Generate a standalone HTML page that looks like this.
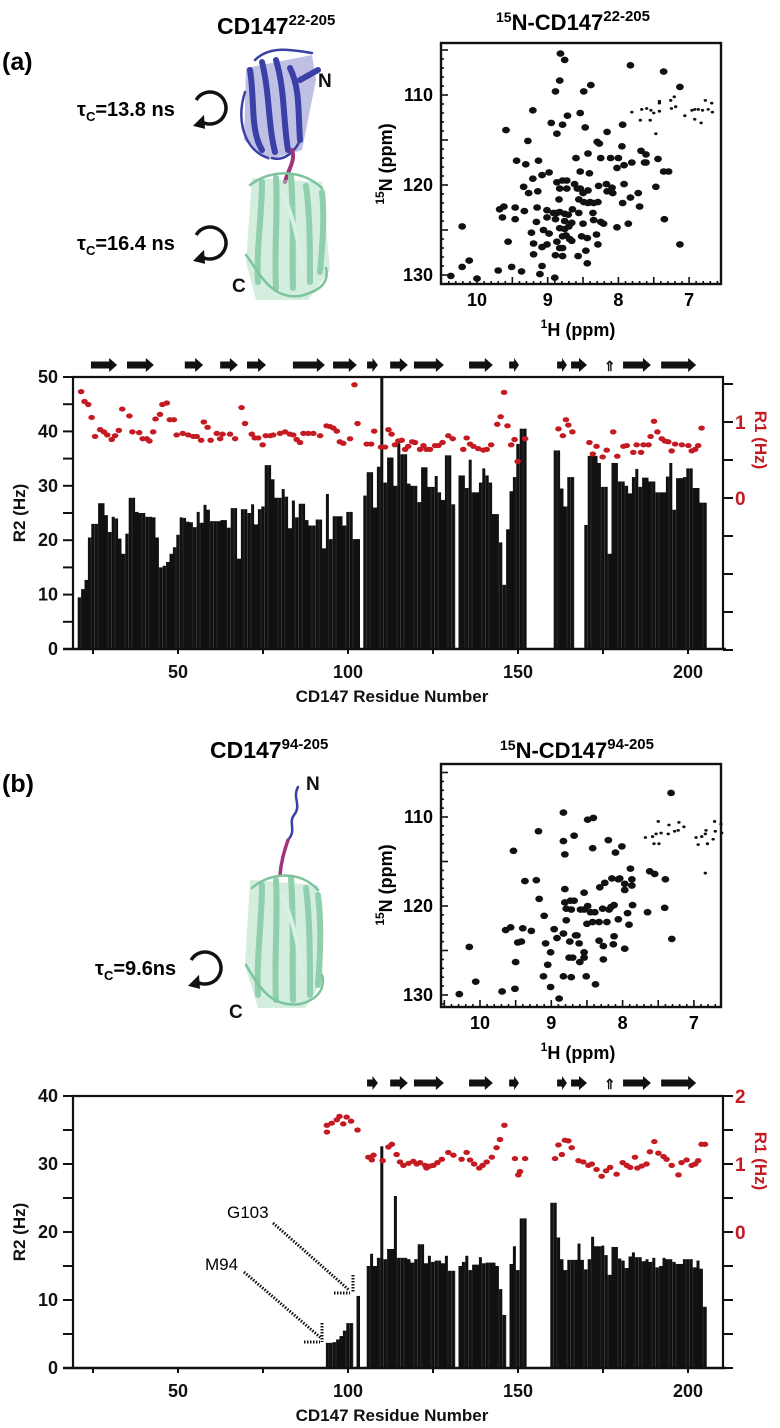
<!DOCTYPE html>
<html><head><meta charset="utf-8">
<style>
html,body{margin:0;padding:0;background:#fff;}
svg{display:block;font-family:"Liberation Sans",Arial,sans-serif;}
.b{font-weight:bold;}
</style></head>
<body>
<svg id="fig" width="780" height="1428" viewBox="0 0 780 1428" xmlns="http://www.w3.org/2000/svg">
<rect x="0" y="0" width="780" height="1428" fill="#fff"/>

<text x="2" y="70" class="b" font-size="25">(a)</text>
<text x="2" y="792" class="b" font-size="25">(b)</text>
<text x="217" y="34" class="b" font-size="23">CD147<tspan font-size="15" dy="-9">22-205</tspan></text>
<text x="210" y="758" class="b" font-size="23">CD147<tspan font-size="15" dy="-9">94-205</tspan></text>
<text x="496" y="30" class="b" font-size="22"><tspan font-size="14" dy="-8">15</tspan><tspan dy="8">N-CD147</tspan><tspan font-size="15" dy="-9">22-205</tspan></text>
<text x="500" y="758" class="b" font-size="22"><tspan font-size="14" dy="-8">15</tspan><tspan dy="8">N-CD147</tspan><tspan font-size="15" dy="-9">94-205</tspan></text>

<text x="77" y="116" class="b" font-size="20">τ<tspan font-size="13" dy="5">C</tspan><tspan dy="-5">=13.8 ns</tspan></text>
<text x="77" y="250" class="b" font-size="20">τ<tspan font-size="13" dy="5">C</tspan><tspan dy="-5">=16.4 ns</tspan></text>
<text x="95" y="975" class="b" font-size="20">τ<tspan font-size="13" dy="5">C</tspan><tspan dy="-5">=9.6ns</tspan></text>

<!-- spectrum axis titles -->
<text x="578" y="336" text-anchor="middle" class="b" font-size="18"><tspan font-size="12" dy="-8">1</tspan><tspan dy="8">H (ppm)</tspan></text>
<text x="578" y="1059" text-anchor="middle" class="b" font-size="18"><tspan font-size="12" dy="-8">1</tspan><tspan dy="8">H (ppm)</tspan></text>
<text x="0" y="0" transform="translate(392,164) rotate(-90)" text-anchor="middle" class="b" font-size="18"><tspan font-size="12" dy="-8">15</tspan><tspan dy="8">N (ppm)</tspan></text>
<text x="0" y="0" transform="translate(392,885) rotate(-90)" text-anchor="middle" class="b" font-size="18"><tspan font-size="12" dy="-8">15</tspan><tspan dy="8">N (ppm)</tspan></text>

<g id="rot-arrows"></g>
<g id="cartoons"></g>
<g id="specA"></g>
<g id="specB"></g>
<g id="chartA"></g>
<g id="chartB"></g>

<text x="227" y="1218" font-size="17">G103</text>
<text x="205" y="1270" font-size="17">M94</text>
<g stroke="#111" stroke-width="3" stroke-dasharray="1.5,1.5" fill="none">
<line x1="273" y1="1223" x2="349" y2="1290"/>
<line x1="334" y1="1293" x2="350" y2="1293"/>
<line x1="353" y1="1275" x2="353" y2="1293"/>
<line x1="244" y1="1272" x2="321" y2="1338"/>
<line x1="304" y1="1342" x2="320" y2="1342"/>
<line x1="322" y1="1323" x2="322" y2="1342"/>
</g>

<script>
const r2AStart = 21;
const r2A = [
 9.5,11,12.7,20.5,23,23,26.8,26.8,24.6,21.5,
 24.3,24,20.3,17.5,21.2,27.8,27.8,25.2,25,25,
 24.3,24.3,24.2,20.5,15,15.3,16,17.5,18.7,21,
 24.2,24.1,23.4,23.3,22.4,25.2,23.2,26.5,25.6,23.5,
 23.5,23.5,23.7,23.7,22.3,25.9,25.9,16.6,25.7,25.7,
 25,26.6,22.9,25.7,26.2,33.8,33.8,31.2,27.8,27.8,
 29.4,28,22.2,27.3,24.2,26.7,26.7,23.7,22.7,22.7,
 23.8,23.8,18.5,28.5,20.2,24.4,24.4,24.4,22.7,25.2,
 25.2,20.2,20.2,null,28.2,32.5,32.5,26,33.5,50,
 30.6,35.2,35.2,30,37.8,35.8,35.8,30.4,30,30,
 27,33.4,33.4,29.8,29.8,31.8,28.8,27.4,35.6,35.6,
 26.6,null,31.9,31.9,29.6,34.8,28.8,28.8,30.6,33.2,
 31.9,30.6,24.8,24.8,19.6,11.8,22,29,31.6,37.7,
 40.5,40.5,null,null,null,null,null,null,null,null,
 36.5,36.5,29.5,26.2,31.6,31.6,null,null,null,22.8,
 35.5,35.5,35.5,34.2,29.8,29.8,17.5,34.2,34.2,30.8,
 30.8,30,28.6,31.6,33.1,29.8,31.5,31.5,30.8,30.8,
 28.8,28.8,28.8,31.7,34.2,25.6,31.4,31.4,31.6,33.2,
 33.2,29.6,29.6,26.9,26.9
];
const r1AResidues = [21.5,22.5,23.6,24.6,25.6,27.1,28.2,29.2,30.5,31.5,32.6,33.6,35.7,36.6,38.6,39.6,40.8,41.6,42.7,43.4,44.7,45.4,46.7,47.6,48.8,49.6,51.4,53,54.5,55.5,56.8,57.6,58.7,59.6,61.4,62.4,63.1,65.3,66.8,68.7,69.7,71.7,72.6,73.6,74.9,75.8,77.1,78,80,81.5,82.9,83.9,84.9,85.9,86.9,88.3,89.8,91.8,93.7,94.7,95.7,96.7,97.6,98.6,100.6,101.9,102.8,105.5,106.8,107.7,109.7,110.9,111.9,112.8,113.8,114.8,115.8,116.8,117.7,118.9,119.7,121.2,122.2,123.1,124.1,125.6,126.6,127.8,129.5,130.8,133.9,134.9,135.9,136.9,138.3,139.8,140.8,142.1,143.9,144.9,145.9,146.9,148,149,149.9,152.1,161.9,163.2,164.1,164.8,166,171,172,173.1,174.9,176.1,178,179.2,181,182,183.9,184.9,186.2,186.9,188.4,189,190,191,192.3,193.2,194.2,195.2,196.2,198.2,200.1,201.1,202.1,203,204];
const r1AValues = [1.40,1.27,1.23,1.06,0.81,0.90,0.87,0.83,0.77,0.82,0.89,1.17,1.08,0.87,0.86,0.78,0.78,0.75,0.87,1.04,1.10,1.23,1.25,1.03,1.03,0.83,0.85,0.83,0.81,0.81,0.76,1.00,0.93,0.76,0.85,0.78,0.84,0.84,0.78,1.19,0.98,0.84,0.79,0.79,0.70,0.82,0.82,0.83,0.85,0.87,0.84,0.83,0.77,0.73,0.85,0.85,0.85,0.82,0.95,0.94,0.92,0.88,0.74,0.72,0.78,1.49,0.98,0.71,0.71,0.88,0.67,0.67,0.90,0.84,0.70,0.75,0.76,0.64,0.68,0.74,0.73,0.64,0.69,0.64,0.64,0.69,0.69,0.73,0.82,0.78,0.64,0.79,0.71,0.68,0.65,0.63,0.64,0.70,0.97,1.07,1.39,0.95,0.70,0.77,0.48,0.78,0.91,0.82,1.03,0.96,0.87,0.73,0.58,0.68,0.54,0.63,0.87,0.55,0.68,0.69,0.60,0.70,0.60,0.70,0.70,0.81,1.01,0.87,0.78,0.75,0.74,0.62,0.71,0.70,0.69,0.62,0.64,0.69,0.92];

const r2BStart = 94;
const r2B = [
 3.7,3.7,3.8,4.2,4.7,5.5,6.6,6.6,null,10.6,
 null,null,15,16.8,15,16.2,32.6,16,17.5,17.5,
 25.3,16.2,16.2,16.2,16,15.5,16,18.2,18.2,15.4,
 16.5,15.6,15.8,15.8,15.4,16.5,14.3,14.3,null,15,
 15.6,16.5,14.4,15.2,15.2,16.3,15.4,15.5,15.5,15.5,
 15,11.6,7.8,null,15.3,17.9,14.4,22,22,null,
 null,null,null,null,null,null,24.3,24.3,19.2,16,
 14.4,15.9,15.9,15.9,18.3,15.9,14.5,16,19.3,17.9,
 17.9,18,16.6,13.7,17.8,17.8,16.1,15.8,14.7,16.4,
 17,16.3,16.3,15.7,16,15.6,16.2,14.8,15,16.2,
 16,16,15.6,15.3,15.3,16,16,16,14.8,15.8,
 14.6,9
];
const r1BResidues = [93.8,93.8,95.2,96.7,97.5,98.6,99.6,100.9,102.8,106,107.5,107,110.2,111.9,112.9,114.3,115.3,116.3,117.8,119.2,120.2,121.2,122.7,123.1,124.1,125.1,126.3,127.6,129.5,131,133.4,134.9,135.9,137.1,138.6,139.6,140.8,142.3,143.7,144.7,146,149.1,150.1,150.6,152.1,160.9,161.9,162.9,163.8,164.8,165.8,167.8,169.2,170.7,171.7,173.1,174.6,175.9,177.1,179,180.8,182,183,184.4,185.1,186.4,187.8,188.8,190.1,191.3,192.8,193.7,195.2,197.2,198.1,199.6,201.1,202.1,203,204,205];
const r1BValues = [1.47,1.57,1.60,1.65,1.70,1.59,1.69,1.63,1.50,1.10,1.13,1.06,1.05,1.25,1.29,1.14,1.03,0.98,1.01,1.04,1.00,1.02,0.98,0.94,0.97,0.98,1.02,1.07,1.17,1.13,1.07,1.17,1.06,1.00,0.94,0.98,1.03,1.10,1.24,1.36,1.57,1.08,0.84,0.89,1.08,1.08,1.28,1.14,1.35,1.34,1.24,1.05,1.03,0.98,1.00,0.92,0.82,0.90,0.95,0.85,1.02,0.98,0.95,1.10,0.94,0.97,1.00,1.18,1.33,1.16,1.11,1.07,0.98,0.84,1.02,1.06,0.98,1.00,1.05,1.29,1.29];

const strandStartsA = [24.4,35,52,62.4,70.3,83.8,95.6,105.6,112.4,119.4,135.6,147.4,161.5,165.6,180.9,192.1];
const strandEndsA   = [32.1,42.9,57.4,67.6,75.9,93.2,102.6,108.8,117.6,128.2,142.6,150.3,164.4,170.3,189.1,202.4];
const strandStartsB = [105.6,112.4,119.4,135.6,147.4,161.5,165.6,180.9,192.1];
const strandEndsB   = [108.8,117.6,128.2,142.6,150.3,164.4,170.3,189.1,202.4];
const bulgeResidue = 177;

const r2TicksA = [0,10,20,30,40,50];
const r2TicksB = [0,10,20,30,40];
const residueTicks = [50,100,150,200];
const r1LabelsA = [0,1];
const r1LabelsB = [0,1,2];

const specAH = [8.82,8.76,8.83,8.89,8.49,8.39,7.83,7.36,7.13,9.21,8.54,8.95,8.79,8.72,8.87,8.47,8.16,7.94,9.28,9.59,9.44,9.31,9.13,8.60,8.43,8.30,8.27,7.95,7.68,7.61,7.61,7.44,8.25,8.11,8.0,8.02,7.92,7.81,7.63,7.36,7.29,9.21,9.08,8.98,8.54,8.41,8.87,8.79,8.73,8.62,8.58,8.54,9.34,9.27,9.14,8.83,8.73,8.50,8.43,8.28,8.17,8.09,7.92,7.72,7.47,9.68,9.62,9.46,9.33,9.64,9.46,8.84,8.56,8.49,8.40,8.29,8.16,8.08,7.94,7.83,7.70,7.35,9.15,9.01,8.92,8.87,8.83,8.76,8.71,8.65,8.56,8.43,8.35,8.36,8.35,8.25,8.21,9.01,8.89,8.76,8.66,8.70,8.50,7.86,8.02,9.16,9.06,8.98,8.83,8.76,8.74,8.79,8.69,8.66,8.52,8.44,8.31,8.29,9.23,9.20,9.08,9.01,8.87,8.83,8.79,8.79,8.57,8.46,8.44,9.20,8.89,9.08,9.11,8.90,9.56,9.70,9.51,9.37,10.21,10.11,10.21,10.37,10.0,7.13];
const specAN = [105.4,106.1,108.4,109.6,109.6,108.9,106.7,107.4,109.1,111.7,112.0,113.1,113.3,112.3,114.3,113.6,114.1,113.3,115.1,113.9,117.3,117.7,117.3,117.0,116.5,115.2,115.4,115.7,116.2,116.6,117.5,117.1,117.0,117.0,117.0,118.1,117.8,117.5,117.5,118.5,118.5,119.3,118.9,118.6,118.5,118.7,119.7,119.5,119.5,119.9,120.4,120.4,120.2,120.9,120.7,120.4,120.4,120.9,120.6,120.1,119.9,120.3,119.9,120.9,120.2,122.7,122.4,122.5,122.9,123.6,123.8,121.6,121.6,121.9,121.9,121.9,120.7,120.9,122.0,121.4,122.4,123.8,122.5,122.8,123.1,123.1,123.0,123.2,123.3,122.7,123.1,122.0,122.0,123.1,123.9,124.1,124.3,123.6,123.8,124.0,124.2,124.6,124.3,124.3,124.7,124.1,125.0,125.4,124.8,124.9,125.6,125.7,126.0,126.2,125.7,125.9,125.5,126.6,125.3,126.5,126.9,126.6,126.3,127.0,127.0,127.9,127.9,127.3,128.7,127.7,127.8,129.0,129.9,130.3,126.3,129.5,129.1,129.6,124.6,128.4,129.1,130.1,130.4,126.6];
const specASmallH = [7.81,7.67,7.60,7.54,7.55,7.50,7.42,7.42,7.42,7.26,7.21,7.25,7.19,7.06,6.96,6.92,6.87,6.81,6.77,6.73,6.67,6.68,6.83,6.92,7.47,7.69];
const specASmallN = [111.9,111.6,111.5,111.7,112.8,112.0,111.8,110.9,110.7,110.6,110.2,111.5,111.3,112.3,111.7,111.6,111.6,111.7,110.6,111.6,111.9,110.9,113.1,112.7,114.3,112.8];

const specBH = [7.32,8.83,8.49,8.41,9.18,8.83,8.68,8.20,9.53,8.81,8.42,8.10,8.01,7.89,7.62,7.55,7.40,9.37,9.21,8.81,8.54,8.32,8.25,8.15,8.06,8.04,7.87,7.97,7.87,7.97,9.17,8.81,8.73,8.68,8.79,8.72,8.59,8.54,8.49,8.45,8.39,8.28,8.19,8.16,8.12,7.86,7.93,7.65,7.41,9.10,8.79,8.50,8.42,8.33,8.22,8.06,7.91,9.64,9.57,9.40,9.28,8.96,8.92,8.83,8.66,8.64,9.42,9.08,8.74,8.61,8.33,8.27,8.12,8.13,7.97,7.31,10.15,9.01,8.54,8.75,8.70,8.54,8.60,8.27,9.50,9.05,9.11,8.83,8.72,8.51,8.38,9.01,10.06,9.51,10.29,9.69,8.89,9.47];
const specBN = [107.3,109.5,110.3,110.1,111.6,112.7,112.1,112.6,113.8,114.2,113.5,114.0,113.3,115.8,116.1,116.4,117.0,117.2,117.1,118.1,118.5,117.9,117.4,116.9,117.0,116.9,117.0,117.5,117.7,118.2,119.2,119.6,119.4,119.4,120.3,120.4,120.4,120.4,120.0,120.7,120.7,120.3,120.4,120.1,119.9,119.9,120.8,120.7,120.2,121.1,121.6,122.0,121.8,121.8,121.8,121.5,122.1,122.7,122.4,122.5,122.8,122.6,123.6,123.1,123.3,123.3,124.0,124.2,124.0,124.2,123.9,124.5,123.4,124.3,124.8,123.7,124.6,125.2,125.2,125.8,125.8,125.8,126.3,126.0,126.3,126.6,127.9,127.9,128.0,127.9,128.8,129.1,128.5,129.3,129.9,129.6,130.4,124.1];
const specBSmallH = [7.68,7.58,7.53,7.56,7.49,7.46,7.36,7.35,7.27,7.22,7.14,7.50,7.21,6.97,6.94,6.89,6.84,6.81,6.83,6.71,6.70,6.62,6.61,6.73,6.84];
const specBSmallN = [112.3,112.2,111.9,113.0,113.0,111.8,111.9,110.9,111.6,111.5,111.1,110.5,110.6,112.3,113.1,112.2,111.9,113.0,111.5,110.5,111.6,110.8,111.8,112.5,116.3];
const ppmTicksN = [110,120,130];
const ppmTicksH = [10,9,8,7];

const NS = 'http://www.w3.org/2000/svg';
const svg = document.getElementById('fig');
function mk(tag, attrs, parent){
  const e = document.createElementNS(NS, tag);
  for (const k in attrs) e.setAttribute(k, attrs[k]);
  (parent || svg).appendChild(e);
  return e;
}
const RED = '#c41a22';
function xRes(r){ return 178 + (r - 50) * 3.4; }

function drawChart(g, cfg){
  const L = 73, R = 723, T = cfg.top, B = cfg.bottom;
  const yR2 = v => B - v * cfg.r2px;
  const yR1 = v => cfg.r1zero - v * cfg.r1px;
  cfg.r2.forEach((v, i) => {
    if (v === null) return;
    const r = cfg.r2Start + i;
    const bar = mk('rect', {x: xRes(r - 0.5).toFixed(2), y: yR2(v).toFixed(2), width: 3.0, height: (B - yR2(v)).toFixed(2), fill: '#111'}, g);
    
    
    const fill = mk('rect', {x: (xRes(r - 0.5) + 2.9).toFixed(2), y: yR2(v).toFixed(2), width: 0.6, height: (B - yR2(v)).toFixed(2), fill: '#111'}, g);
    if (cfg.r2[i + 1] !== null && cfg.r2[i + 1] !== undefined) {
      fill.setAttribute('y', yR2(Math.min(v, cfg.r2[i + 1])).toFixed(2));
      fill.setAttribute('height', (B - yR2(Math.min(v, cfg.r2[i + 1]))).toFixed(2));
    }
    
    
  });
  cfg.r1r.forEach((r, i) => {
    const d = mk('ellipse', {cx: xRes(r).toFixed(2), cy: yR1(cfg.r1v[i]).toFixed(2), rx: 3.3, ry: 2.6, fill: RED}, g);
    
    
  });
  const frame = mk('path', {d: `M${L},${B} L${L},${T} L${R},${T} L${R},${B}`, fill: 'none', stroke: '#111', 'stroke-width': 2.2}, g);
  
  
  const xaxis = mk('line', {x1: 63, y1: B, x2: 726, y2: B, stroke: '#111', 'stroke-width': 2.4}, g);
  
  
  for (let v = 0; v <= cfg.r2max; v += 5) {
    const t = mk('line', {x1: 63, x2: L, y1: yR2(v), y2: yR2(v), stroke: '#111', 'stroke-width': 2}, g);
    
    
  }
  cfg.r2Ticks.forEach(v => {
    const t = mk('text', {x: 58, y: yR2(v) + 6, 'text-anchor': 'end', 'font-size': 18, 'font-weight': 'bold', fill: '#111'}, g);
    t.textContent = v;
    
    
  });
  for (let r = 25; r <= 200; r += 25) {
    const t = mk('line', {x1: xRes(r), x2: xRes(r), y1: B, y2: B + 5, stroke: '#111', 'stroke-width': 2}, g);
    
    
  }
  residueTicks.forEach(r => {
    const t = mk('text', {x: xRes(r), y: B + 29, 'text-anchor': 'middle', 'font-size': 18, 'font-weight': 'bold', fill: '#111'}, g);
    t.textContent = r;
    
    
  });
  for (let v = -2; v <= cfg.r1max + 0.01; v += 0.5) {
    const t = mk('line', {x1: R, x2: R + 10, y1: yR1(v), y2: yR1(v), stroke: '#111', 'stroke-width': 2}, g);
    
    
  }
  cfg.r1Labels.forEach(v => {
    const t = mk('text', {x: 735, y: yR1(v) + 7, 'font-size': 19, 'font-weight': 'bold', fill: RED}, g);
    t.textContent = v;
    
    
  });
  const yt = mk('text', {x: 0, y: 0, transform: `translate(25,${(T + B) / 2}) rotate(-90)`, 'text-anchor': 'middle', 'font-size': 17, 'font-weight': 'bold', fill: '#111'}, g);
  yt.textContent = 'R2 (Hz)';
  
  
  const rt = mk('text', {x: 0, y: 0, transform: `translate(755,${cfg.r1TitleY}) rotate(90)`, 'text-anchor': 'middle', 'font-size': 17, 'font-weight': 'bold', fill: RED}, g);
  rt.textContent = 'R1 (Hz)';
  
  
  const xt = mk('text', {x: 392, y: B + 53, 'text-anchor': 'middle', 'font-size': 17, 'font-weight': 'bold', fill: '#111'}, g);
  xt.textContent = 'CD147 Residue Number';
  
  
  cfg.ss0.forEach((s, i) => {
    const x0 = xRes(s), x1 = xRes(cfg.ss1[i]), y = cfg.ssY;
    const hl = Math.min(8, (x1 - x0) * 0.5);
    const a = mk('polygon', {points: `${x0},${y-3.5} ${x1-hl},${y-3.5} ${x1-hl},${y-7} ${x1},${y} ${x1-hl},${y+7} ${x1-hl},${y+3.5} ${x0},${y+3.5}`, fill: '#111'}, g);
    
    
  });
  const bu = mk('text', {x: xRes(bulgeResidue), y: cfg.ssY + 6, 'text-anchor': 'middle', 'font-size': 14, 'font-weight': 'bold', fill: '#111'}, g);
  bu.textContent = '⇑';
  
  
}

drawChart(document.getElementById('chartA'), {top: 377, bottom: 649, r2px: 5.44, r2max: 50, r1zero: 498, r1px: 76, r1max: 1.5,
  r2: r2A, r2Start: r2AStart, r1r: r1AResidues, r1v: r1AValues, r2Ticks: r2TicksA, r1Labels: r1LabelsA, r1TitleY: 440,
  ss0: strandStartsA, ss1: strandEndsA, ssY: 365});
drawChart(document.getElementById('chartB'), {top: 1096, bottom: 1368, r2px: 6.8, r2max: 40, r1zero: 1232, r1px: 68, r1max: 2,
  r2: r2B, r2Start: r2BStart, r1r: r1BResidues, r1v: r1BValues, r2Ticks: r2TicksB, r1Labels: r1LabelsB, r1TitleY: 1161,
  ss0: strandStartsB, ss1: strandEndsB, ssY: 1083});

function drawSpec(g, c){
  const sx = h => c.x10 + (10 - h) * c.pxH;
  const sy = n => c.y110 + (n - 110) * c.pxN;
  c.H.forEach((h, i) => {
    const p = mk('ellipse', {cx: sx(h).toFixed(2), cy: sy(c.N[i]).toFixed(2), rx: 3.9, ry: 3.3, fill: '#111'}, g);
    
    
  });
  c.sH.forEach((h, i) => {
    const p = mk('ellipse', {cx: sx(h).toFixed(2), cy: sy(c.sN[i]).toFixed(2), rx: 1.7, ry: 1.4, fill: '#111'}, g);
    
    
  });
  const f = mk('rect', {x: 441, y: c.top, width: 280, height: c.bottom - c.top, fill: 'none', stroke: '#111', 'stroke-width': 2.4}, g);
  
  
  for (let n = 105; n <= 131; n += 1) {
    const len = (n % 5 === 0) ? 7 : 3;
    const t = mk('line', {x1: 441, x2: 441 + len, y1: sy(n), y2: sy(n), stroke: '#111', 'stroke-width': 1.6}, g);
    
    
  }
  for (let k = 66; k <= 105; k++) {
    const h = k / 10, x = sx(h);
    if (x < 442 || x > 720) continue;
    const len = (k % 5 === 0) ? 7 : 3;
    const t = mk('line', {x1: x, x2: x, y1: c.bottom, y2: c.bottom - len, stroke: '#111', 'stroke-width': 1.6}, g);
    
    
  }
  ppmTicksN.forEach(n => {
    const t = mk('text', {x: 433, y: sy(n) + 6, 'text-anchor': 'end', 'font-size': 18, 'font-weight': 'bold'}, g);
    t.textContent = n;
    
    
  });
  ppmTicksH.forEach(h => {
    const t = mk('text', {x: sx(h), y: c.bottom + 22, 'text-anchor': 'middle', 'font-size': 18, 'font-weight': 'bold'}, g);
    t.textContent = h;
    
    
  });
}
drawSpec(document.getElementById('specA'), {top: 43, bottom: 284, x10: 477, pxH: 70.7, y110: 95, pxN: 9.0, H: specAH, N: specAN, sH: specASmallH, sN: specASmallN});
drawSpec(document.getElementById('specB'), {top: 764, bottom: 1007, x10: 480, pxH: 71.3, y110: 817, pxN: 8.9, H: specBH, N: specBN, sH: specBSmallH, sN: specBSmallN});

const rotG = document.getElementById('rot-arrows');
[[210,108],[210,243],[205,968]].forEach(([cx, cy]) => {
  const r = 16;
  const a0 = -150 * Math.PI / 180, a1 = 120 * Math.PI / 180;
  const p0 = [cx + r * Math.cos(a0), cy + r * Math.sin(a0)];
  const p1 = [cx + r * Math.cos(a1), cy + r * Math.sin(a1)];
  const arc = mk('path', {d: `M${p0[0]},${p0[1]} A${r},${r} 0 1 1 ${p1[0]},${p1[1]}`, fill: 'none', stroke: '#111', 'stroke-width': 3.5}, rotG);
  
  
  const hx = p1[0], hy = p1[1];
  const head = mk('polygon', {points: `${hx-9},${hy+4} ${hx+2},${hy-7} ${hx+3},${hy+7}`, fill: '#111'}, rotG);
  
  
});

const cg = document.getElementById('cartoons');
function strand(d, color, w){
  const p = mk('path', {d: d, fill: 'none', stroke: color, 'stroke-width': w, 'stroke-linecap': 'round', 'stroke-linejoin': 'round'}, cg);
  
  
}
function blob(pts, color, op){
  const p = mk('polygon', {points: pts, fill: color, opacity: op}, cg);
  
  
}
blob('246,68 312,55 316,80 302,150 268,160 244,140', '#7074c4', 0.45);
['M250,70 C255,100 250,130 262,150','M262,62 C270,95 268,125 275,152','M276,60 C285,90 283,120 288,150','M290,68 C300,88 298,112 300,140','M300,80 L318,70'].forEach(d => strand(d, '#3b40a6', 6));
['M245,92 C236,120 244,150 268,158','M255,60 C270,45 292,50 312,53','M272,158 C285,162 296,150 300,140'].forEach(d => strand(d, '#3b40a6', 2.5));
strand('M292,150 C296,160 288,170 285,182', '#a0357a', 4);
blob('252,178 322,182 330,270 308,300 256,300 246,262', '#a8dcbf', 0.5);
['M262,182 C262,215 256,250 258,282','M276,178 C278,215 274,250 276,288','M291,176 C294,215 292,250 293,288','M306,186 C310,215 310,250 310,282','M322,192 C325,220 322,250 320,272'].forEach(d => strand(d, '#8fcfab', 6));
['M246,255 C258,270 270,300 300,296 C316,292 330,285 326,268','M250,185 C270,170 300,168 322,188'].forEach(d => strand(d, '#7cc49c', 2.5));
strand('M282,192 C295,220 300,250 302,270', '#d8f1e4', 4);
strand('M298,787 C292,798 302,805 294,815 C288,823 297,830 288,840', '#3b40a6', 2.5);
strand('M288,840 C284,852 281,862 280,875', '#a0357a', 3.5);
blob('250,880 318,885 323,980 305,1008 258,1008 245,965', '#a8dcbf', 0.5);
['M262,885 C262,920 256,960 258,995','M276,880 C278,920 274,960 276,1000','M291,878 C294,920 292,960 293,1000','M306,888 C310,920 310,960 310,995','M318,895 C322,925 320,960 318,985'].forEach(d => strand(d, '#8fcfab', 6));
['M246,965 C258,985 270,1008 300,1004 C316,1000 326,990 322,975','M252,888 C270,872 300,870 318,890'].forEach(d => strand(d, '#7cc49c', 2.5));
strand('M282,895 C295,925 300,955 302,975', '#d8f1e4', 4);
[['N',318,87,'n-terminus-label-a'],['C',232,292,'c-terminus-label-a'],['N',306,790,'n-terminus-label-b'],['C',229,1018,'c-terminus-label-b']].forEach(([t,x,y,n]) => {
  const e = mk('text', {x: x, y: y, 'font-size': 19, 'font-weight': 'bold', fill: '#111'}, cg);
  e.textContent = t;
  
  
});
</script>
</svg>
</body></html>
